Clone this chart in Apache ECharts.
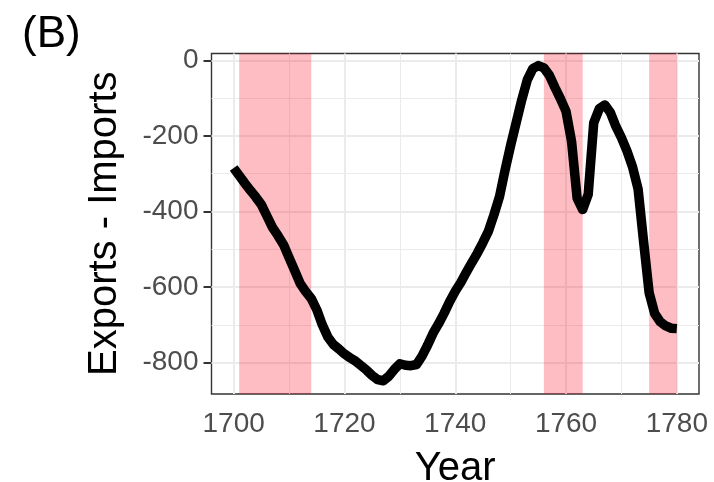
<!DOCTYPE html>
<html>
<head>
<meta charset="utf-8">
<script src="https://cdn.jsdelivr.net/npm/echarts@6/dist/echarts.min.js"></script>
<style>
html,body{margin:0;padding:0;background:#fff;}
#chart{width:714px;height:482px;}
</style>
</head>
<body>
<div id="chart"></div>
<script>
// ---- data ----
const years = [];
for (let y = 1700; y <= 1780; y++) years.push(y);
const balance = [
  -285, -305, -325, -344, -362, -382, -412, -442, -464, -488,
  -522, -556, -590, -612, -630, -660, -700, -732, -752, -764,
  -777, -787, -796, -808, -820, -834, -845, -848, -836, -818,
  -803, -807, -808, -805, -783, -754, -722, -697, -669, -638,
  -611, -588, -561, -535, -510, -482, -452, -408, -360, -290,
  -225, -165, -105, -52, -22, -14, -20, -40, -72, -102,
  -135, -215, -365, -395, -355, -165, -128, -118, -138, -175,
  -205, -240, -282, -340, -480, -615, -670, -692, -703, -709,
  -710
];
const warStarts = [1701, 1756, 1775];
const warEnds   = [1714, 1763, 1780];
const xTicks = [1700, 1720, 1740, 1760, 1780];
const xMinor = [1710, 1730, 1750, 1770];
const yTicks = [-800, -600, -400, -200, 0];
const yMinor = [-700, -500, -300, -100];
const xRange = [1696, 1784];
const yRange = [-883, 18];

const FONT = "'Liberation Sans', Arial, Helvetica, sans-serif";
const seriesData = years.map((y, i) => [y, balance[i]]);

const gridLines = []
  .concat(xTicks.map(v => ({xAxis: v, lineStyle: {width: 2}})))
  .concat(xMinor.map(v => ({xAxis: v, lineStyle: {width: 1}})))
  .concat(yTicks.map(v => ({yAxis: v, lineStyle: {width: 2}})))
  .concat(yMinor.map(v => ({yAxis: v, lineStyle: {width: 1}})));

const wars = warStarts.map((s, i) => [{xAxis: s}, {xAxis: warEnds[i]}]);

const chart = echarts.init(document.getElementById('chart'), null, {renderer: 'canvas'});
chart.setOption({
  animation: false,
  backgroundColor: '#ffffff',
  textStyle: {fontFamily: FONT},
  title: {
    text: '(B)', left: 17, top: 8,
    textStyle: {fontFamily: FONT, fontSize: 44, fontWeight: 'normal', color: '#000'}
  },
  grid: {
    left: 211.5, right: 15, top: 53.5, bottom: 88,
    containLabel: false, outerBoundsMode: 'none',
    show: true, borderColor: '#333333', borderWidth: 1.4, backgroundColor: 'transparent'
  },
  xAxis: {
    type: 'value', min: xRange[0], max: xRange[1],
    name: 'Year', nameLocation: 'middle', nameGap: 55,
    nameTextStyle: {fontFamily: FONT, fontSize: 40, color: '#000'},
    axisLine: {show: false},
    splitLine: {show: false},
    axisTick: {show: true, customValues: xTicks, length: 8, lineStyle: {color: '#333', width: 2}},
    axisLabel: {customValues: xTicks, margin: 16, fontFamily: FONT, fontSize: 28, color: '#4D4D4D',
      formatter: v => String(v)}
  },
  yAxis: {
    type: 'value', min: yRange[0], max: yRange[1],
    name: 'Exports - Imports', nameLocation: 'middle', nameGap: 87,
    nameTextStyle: {fontFamily: FONT, fontSize: 40, color: '#000'},
    axisLine: {show: false},
    splitLine: {show: false},
    axisTick: {show: true, customValues: yTicks, length: 8, lineStyle: {color: '#333', width: 2}},
    axisLabel: {customValues: yTicks, margin: 13, fontFamily: FONT, fontSize: 28, color: '#4D4D4D',
      formatter: v => String(v)}
  },
  series: [
    {
      name: 'grid', type: 'line', data: [], z: 1, silent: true,
      markLine: {
        silent: true, symbol: ['none', 'none'], animation: false, z: 1,
        label: {show: false},
        lineStyle: {color: '#EBEBEB', type: 'solid'},
        emphasis: {disabled: true},
        data: gridLines
      }
    },
    {
      name: 'wars', type: 'line', data: [], z: 2, silent: true,
      markArea: {
        silent: true, animation: false, z: 2,
        itemStyle: {color: 'rgba(250,0,20,0.26)'},
        label: {show: false},
        emphasis: {disabled: true},
        data: wars
      }
    },
    {
      name: 'balance', type: 'line', data: seriesData, z: 3,
      showSymbol: false, symbol: 'none', smooth: false,
      lineStyle: {color: '#000', width: 9.5, cap: 'butt', join: 'round'},
      emphasis: {disabled: true}
    }
  ]
});
</script>
</body>
</html>
